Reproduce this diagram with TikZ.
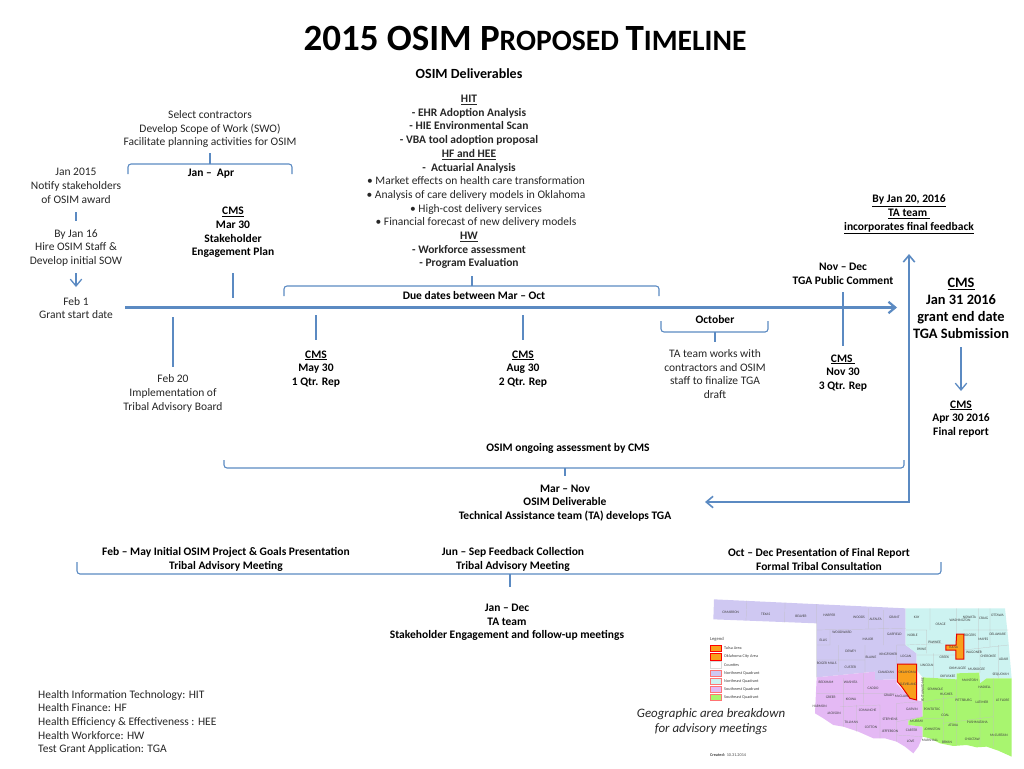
\documentclass[tikz,border=0pt]{standalone}
\usepackage{fontspec}
\setmainfont{Carlito}
\usepackage{tikz}
\usetikzlibrary{arrows.meta}
\definecolor{linkblue}{HTML}{5B8AC2}
\definecolor{quadnw}{HTML}{CFC8F2}
\definecolor{quadne}{HTML}{CDF3F1}
\definecolor{quadsw}{HTML}{E4B9F4}
\definecolor{quadse}{HTML}{A8F56F}
\definecolor{areafill}{HTML}{F9A01B}

\begin{document}
\begin{tikzpicture}
	% Styles
	[
	x=1pt,y=-1pt,
	txt/.style={align=center,inner sep=0pt,yshift=-1pt,text=black!85,font=\fontsize{11.5}{13.7}\selectfont},
	bold/.style={txt,text=black,font=\fontsize{11.5}{13.7}\selectfont\bfseries},
	big/.style={txt,text=black,font=\fontsize{14.4}{17}\selectfont\bfseries},
	tick/.style={draw=linkblue,line width=1.1pt},
	brace/.style={draw=linkblue,line width=1.1pt,rounded corners=3pt},
	arrow/.style={draw=linkblue,line width=1.3pt,-{Straight Barb[length=2.4mm,width=4mm]}},
	county/.style={inner sep=0pt,text=black!75,font=\fontsize{3.6}{4}\selectfont},
	small/.style={county,anchor=west,font=\fontsize{4.2}{5}\selectfont},
	border/.style={draw=black!25,line width=0.2pt},
	swatch/.style={draw=red!55,line width=0.3pt,minimum width=11pt,minimum height=6.5pt,inner sep=0pt},
	area/.style={draw=red!90!black,fill=areafill,line width=1pt},
	]
	\useasboundingbox (0,0) rectangle (1024,768);

	% Titles
	\node at (525,38)	(title)	[inner sep=0pt,text=black,font=\bfseries] {\fontsize{37}{40}\selectfont 2015 OSIM P\fontsize{29.6}{40}\selectfont ROPOSED \fontsize{37}{40}\selectfont T\fontsize{29.6}{40}\selectfont IMELINE};
	\node at (469,73)	(deliv)	[bold,font=\fontsize{14}{16}\selectfont\bfseries] {OSIM Deliverables};

	% Nodes above the timeline
	\node at (210,128)	(select)	[txt] {Select contractors\\Develop Scope of Work (SWO)\\Facilitate planning activities for OSIM};
	\node at (211,173)	(janapr)	[bold] {Jan --\ \ Apr};
	\node at (76,185)	(jan15)		[txt] {Jan 2015\\Notify stakeholders\\of OSIM award};
	\node at (76,247)	(jan16)		[txt] {By Jan 16\\Hire OSIM Staff \&\\Develop initial SOW};
	\node at (76,307)	(feb1)		[txt] {Feb 1\\Grant start date};
	\node at (233,231.5)	(mar30)		[bold] {\underline{CMS}\\Mar 30\\Stakeholder\\Engagement Plan};
	\node at (469,181)	(hit)		[txt] {\textbf{\underline{HIT}}\\
		\textbf{- EHR Adoption Analysis}\\
		\textbf{- HIE Environmental Scan}\\
		\textbf{- VBA tool adoption proposal}\\
		\textbf{\underline{HF and HEE}}\\
		\textbf{-\ \ Actuarial Analysis}\\
		\hspace*{14pt}• Market effects on health care transformation\\
		\hspace*{14pt}• Analysis of care delivery models in Oklahoma\\
		\hspace*{14pt}• High-cost delivery services\\
		\hspace*{14pt}• Financial forecast of new delivery models\\
		\textbf{\underline{HW}}\\
		\textbf{- Workforce assessment}\\
		\textbf{- Program Evaluation}};
	\node at (474,295)	(due)		[bold] {Due dates between Mar -- Oct};
	\node at (843,273)	(novdec)	[bold] {Nov -- Dec\\TGA Public Comment};
	\node at (909,213.5)	(jan20)		[bold] {\underline{By Jan 20, 2016}\\\underline{TA team }\\\underline{incorporates final feedback}};
	\node at (961,307.5)	(jan31)		[big] {\underline{CMS}\\Jan 31 2016\\grant end date\\TGA Submission};

	% Nodes below the timeline
	\node at (173,392.5)	(feb20)		[txt] {Feb 20\\Implementation of\\Tribal Advisory Board};
	\node at (316,368)	(may30)		[bold] {\underline{CMS}\\May 30\\1 Qtr. Rep};
	\node at (523,368)	(aug30)		[bold] {\underline{CMS}\\Aug 30\\2 Qtr. Rep};
	\node at (715,319)	(oct)		[bold] {October};
	\node at (715,373)	(tateam)	[txt] {TA team works with\\contractors and OSIM\\staff to finalize TGA\\draft};
	\node at (843,372)	(nov30)		[bold] {\underline{CMS }\\Nov 30\\3 Qtr. Rep};
	\node at (961,418)	(apr30)		[bold] {\underline{CMS}\\Apr 30 2016\\Final report};
	\node at (568,447)	(ongoing)	[bold] {OSIM ongoing assessment by CMS};
	\node at (565,502)	(marnov)	[bold] {Mar -- Nov\\OSIM Deliverable\\Technical Assistance team (TA) develops TGA};
	\node at (226,558.5)	(febmay)	[bold] {Feb -- May Initial OSIM Project \& Goals Presentation\\Tribal Advisory Meeting};
	\node at (513,558.5)	(junsep)	[bold] {Jun -- Sep Feedback Collection\\Tribal Advisory Meeting};
	\node at (819,558.5)	(octdec)	[bold] {Oct -- Dec Presentation of Final Report\\Formal Tribal Consultation};
	\node at (507,621.5)	(jandec)	[bold] {Jan -- Dec\\TA team\\Stakeholder Engagement and follow-up meetings};
	\node at (38,721.5)	(abbrev)	[txt,align=left,anchor=west] {Health Information Technology: HIT\\Health Finance: HF\\Health Efficiency \& Effectiveness : HEE\\Health Workforce: HW\\Test Grant Application: TGA};
	\node at (711,720.5)	(geo)		[txt,font=\fontsize{12.9}{15}\selectfont\itshape] {Geographic area breakdown\\for advisory meetings};

	% Free ends
	\coordinate (lineL) at (125,307.5);
	\coordinate (lineR) at (897,307.5);
	\coordinate (upT) at (909,254);
	\coordinate (upC) at (909,502);
	\coordinate (upL) at (705,502);

	% Timeline and long arrow
	\draw[arrow,line width=2.2pt] (lineL) -- (lineR);
	\draw[arrow,{Straight Barb[length=2.4mm,width=4mm]}-{Straight Barb[length=2.4mm,width=4mm]},line width=1.6pt] (upL) -- (upC) -- (upT);

	% Connections
	\coordinate (t1) at (76,212);	\coordinate (t2) at (76,221);
	\draw[tick] (t1) -- (t2);
	\coordinate (a1) at (76,273);	\coordinate (a2) at (76,287);
	\draw[arrow] (a1) -- (a2);
	\coordinate (m1) at (233,273);	\coordinate (m2) at (233,298);
	\draw[tick] (m1) -- (m2);
	\coordinate (f1) at (173,317);	\coordinate (f2) at (173,367);
	\draw[tick] (f1) -- (f2);
	\coordinate (y1) at (316,315);	\coordinate (y2) at (316,340);
	\draw[tick] (y1) -- (y2);
	\coordinate (g1) at (523,315);	\coordinate (g2) at (523,340);
	\draw[tick] (g1) -- (g2);
	\coordinate (n1) at (843,292);	\coordinate (n2) at (843,346);
	\draw[tick] (n1) -- (n2);
	\coordinate (c1) at (961,347);	\coordinate (c2) at (961,391);
	\draw[arrow] (c1) -- (c2);

	% Braces
	\draw[brace] (128,174) -- (128,164) -- (292,164) -- (292,174);
	\draw[tick] (210,153) -- (210,164);
	\draw[brace] (284,296) -- (284,286) -- (659,286) -- (659,296);
	\draw[tick] (472,276) -- (472,286);
	\draw[brace] (661,321) -- (661,332) -- (768,332) -- (768,321);
	\draw[tick] (715,332) -- (715,342);
	\draw[brace] (224,460) -- (224,468) -- (904,468) -- (904,460);
	\draw[tick] (565,468) -- (565,476);
	\draw[brace] (77,562) -- (77,574) -- (941,574) -- (941,562);
	\draw[tick] (510,574) -- (510,587);

	% Map, in its own small units
	\begin{scope}[shift={(700,590)},x=0.3333pt,y=-0.3333pt]
		\fill[quadnw] (42,28) -- (617,55) -- (617,165) -- (650,190) -- (650,222) -- (590,222) -- (590,268) -- (525,270) -- (525,245) -- (350,262) -- (350,100) -- (40,88) -- cycle;
		\fill[quadne] (617,55) -- (915,55) -- (925,150) -- (935,265) -- (860,265) -- (840,280) -- (838,248) -- (770,250) -- (770,268) -- (668,262) -- (650,240) -- (650,190) -- (617,165) -- cycle;
		\fill[quadsw] (350,262) -- (525,245) -- (525,270) -- (590,268) -- (590,280) -- (630,325) -- (668,335) -- (668,380) -- (625,392) -- (625,405) -- (668,410) -- (668,440) -- (655,470) -- (640,490) -- (615,470) -- (590,455) -- (555,445) -- (520,445) -- (475,425) -- (430,410) -- (400,405) -- (370,385) -- (345,370) -- cycle;
		\fill[quadse] (668,262) -- (770,268) -- (770,250) -- (838,248) -- (840,280) -- (860,265) -- (935,265) -- (935,500) -- (895,482) -- (860,470) -- (830,472) -- (800,465) -- (760,468) -- (720,460) -- (690,445) -- (668,440) -- (668,410) -- (625,405) -- (625,392) -- (668,380) -- cycle;
		% County lines
		\draw[border] (140,32) -- (138,92) (255,38) -- (254,97) (350,42) -- (350,262) (350,120) -- (617,115) (505,55) -- (505,115) (550,60) -- (550,165) (390,120) -- (390,165) -- (350,165) (415,165) -- (415,245) (350,210) -- (495,210) (495,165) -- (495,250) (590,165) -- (590,222) (590,165) -- (617,165);
		\draw[border] (690,55) -- (690,120) (770,55) -- (770,132) (617,120) -- (680,120) -- (680,190) (620,165) -- (730,160) (700,190) -- (700,265) (835,55) -- (835,190) (870,55) -- (870,170) (790,120) -- (925,120) (895,165) -- (895,265) (792,180) -- (925,165) (840,180) -- (840,248) (650,195) -- (770,195);
		\draw[border] (430,265) -- (430,410) (490,250) -- (490,340) (350,310) -- (590,310) (420,350) -- (540,345) (540,345) -- (540,445) (590,340) -- (590,455) (590,340) -- (668,335) (590,395) -- (668,380) (590,435) -- (668,440) (470,345) -- (470,425);
		\draw[border] (670,335) -- (770,320) (730,300) -- (730,460) (770,268) -- (770,400) (670,385) -- (730,385) (840,290) -- (840,465) (880,265) -- (880,470) (730,400) -- (880,380) (770,400) -- (770,465);
		% Metro areas
		\filldraw[area] (592,222) -- (650,222) -- (650,330) -- (630,325) -- (605,290) -- (592,275) -- cycle;
		\filldraw[area] (770,132) -- (792,132) -- (792,207) -- (768,207) -- (768,180) -- (738,180) -- (738,165) -- (768,165) -- cycle;
		% County names
		\foreach \xa/\ya/\name [count=\i] in {92/66/CIMARRON,197/72/TEXAS,303/78/BEAVER,388/76/HARPER,477/82/WOODS,527/88/ALFALFA,583/81/GRANT,650/82/KAY,722/103/OSAGE,780/92/WASHINGTON,808/82/NOWATA,851/86/CRAIG,892/76/OTTAWA,426/127/WOODWARD,504/147/MAJOR,583/134/GARFIELD,638/135/NOBLE,810/137/ROGERS,850/148/MAYES,893/133/DELAWARE,370/152/ELLIS,704/158/PAWNEE,665/177/PAYNE,822/188/WAGONER,865/200/CHEROKEE,911/207/ADAIR,452/185/DEWEY,513/201/BLAINE,565/193/KINGFISHER,618/198/LOGAN,733/201/CREEK,760/172/TULSA,380/221/ROGER MILLS,451/232/CUSTER,681/227/LINCOLN,773/236/OKMULGEE,830/239/MUSKOGEE,902/255/SEQUOYAH,558/246/CANADIAN,622/247/OKLAHOMA,743/259/OKFUSKEE,810/271/McINTOSH,854/292/HASKELL,378/278/BECKHAM,452/278/WASHITA,519/295/CADDO,625/282/CLEVELAND,706/298/SEMINOLE,739/314/HUGHES,392/321/GREER,453/328/KIOWA,567/317/GRADY,605/320/McCLAIN,791/330/PITTSBURG,846/338/LATIMER,908/330/LE FLORE,359/349/HARMON,402/371/JACKSON,503/362/COMANCHE,636/358/GARVIN,696/357/PONTOTOC,736/377/COAL,454/397/TILLMAN,570/388/STEPHENS,650/393/MURRAY,760/405/ATOKA,832/397/PUSHMATAHA,513/412/COTTON,570/423/JEFFERSON,635/420/CARTER,697/417/JOHNSTON,632/454/LOVE,690/450/MARSHALL,741/458/BRYAN,817/449/CHOCTAW,897/437/McCURTAIN}
			\node at (\xa,\ya) (county\i) [county] {\name};
		\node at (668,300) (pott) [county,rotate=90] {POTTAWATOMIE};
		% Legend
		\node at (30,148) (legend) [small,font=\fontsize{4.6}{5}\selectfont] {Legend};
		\node at (48,175) (sw1) [swatch,fill=areafill,draw=red,line width=0.8pt] {};
		\node at (48,200) (sw2) [swatch,fill=areafill,draw=red,line width=0.8pt] {};
		\node at (48,224) (sw3) [swatch,fill=white,draw=black!15] {};
		\node at (48,249) (sw4) [swatch,fill=quadnw] {};
		\node at (48,273) (sw5) [swatch,fill=quadne] {};
		\node at (48,297) (sw6) [swatch,fill=quadsw] {};
		\node at (48,321) (sw7) [swatch,fill=quadse] {};
		\foreach \ya/\name [count=\i] in {175/Tulsa Area,200/Oklahoma City Area,224/Counties,249/Northwest Quadrant,273/Northeast Quadrant,297/Southwest Quadrant,321/Southeast Quadrant}
			\node at (72,\ya) (legtxt\i) [small] {\name};
		\node at (30,495) (created) [small] {\textbf{Created:}\ \ 10.31.2014};
	\end{scope}
\end{tikzpicture}
\end{document}
